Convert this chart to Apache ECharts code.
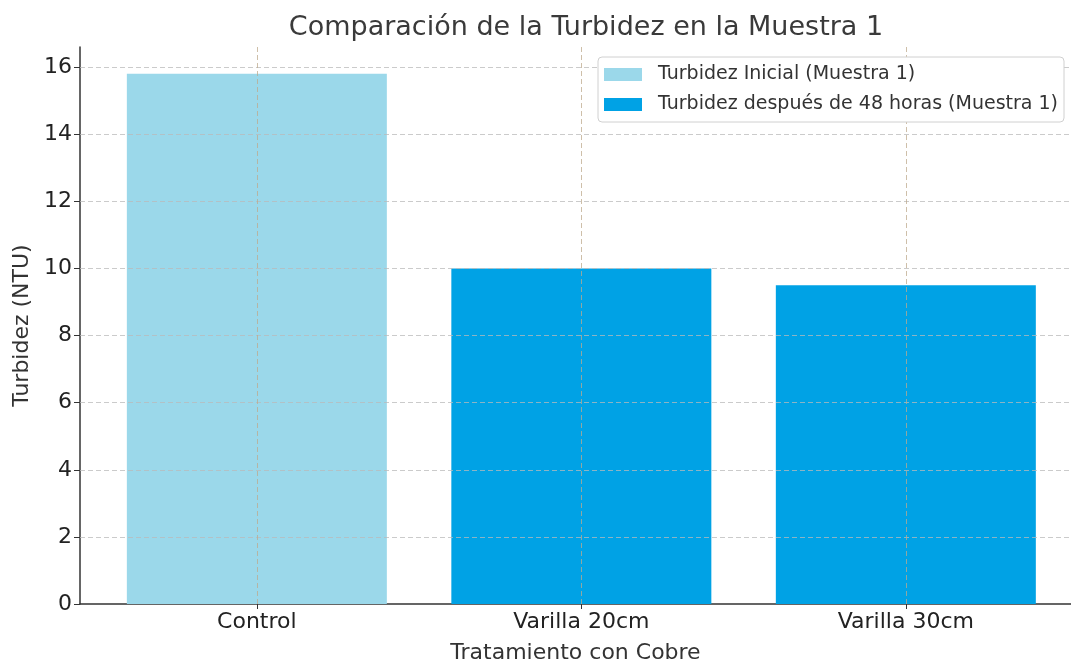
<!DOCTYPE html>
<html>
<head>
<meta charset="utf-8">
<script src="https://cdn.jsdelivr.net/npm/echarts@6/dist/echarts.min.js"></script>
<style>
html,body{margin:0;padding:0;background:#fff;}
#m1{width:1071px;height:662px;}
</style>
</head>
<body>
<div id="m1"></div>
<script>
// datos
var categorias = ['Control', 'Varilla 20cm', 'Varilla 30cm'];
var inicial = [15.8, null, null];
var despues48h = [null, 10.0, 9.5];
var yTicks = [0, 2, 4, 6, 8, 10, 12, 14, 16];

var font = 'DejaVu Sans';
var myChart = echarts.init(document.getElementById('m1'));

function toPoints(arr) {
    var out = [];
    for (var i = 0; i < arr.length; i++) {
        if (arr[i] != null) out.push([i, arr[i]]);
    }
    return out;
}

var xIdx = [];
for (var i = 0; i < categorias.length; i++) xIdx.push(i);

// lineas de rejilla (solo en los ticks, sin linea arriba)
var gridY = [];
for (var j = 1; j < yTicks.length; j++) gridY.push({ yAxis: yTicks[j] });
var gridX = [];
for (var k = 0; k < xIdx.length; k++) gridX.push({ xAxis: xIdx[k] });

var option = {
    animation: false,
    textStyle: { fontFamily: font },
    title: {
        text: 'Comparación de la Turbidez en la Muestra 1',
        left: 581, top: 9, textAlign: 'center',
        textStyle: { fontFamily: font, fontSize: 27, fontWeight: 'normal', color: '#3a3a3a' }
    },
    legend: {
        orient: 'vertical',
        left: 598, top: 57, z: 10,
        padding: [8, 6, 8, 6],
        icon: 'rect',
        itemWidth: 38, itemHeight: 13, itemGap: 11,
        backgroundColor: '#fff',
        borderColor: '#d0d0d0', borderWidth: 1, borderRadius: 4,
        textStyle: { fontFamily: font, fontSize: 19, color: '#333', padding: [0, 0, 0, 11] },
        data: ['Turbidez Inicial (Muestra 1)', 'Turbidez después de 48 horas (Muestra 1)']
    },
    grid: { left: 80, right: 0, top: 47, bottom: 58, outerBoundsMode: 'none', containLabel: false },
    xAxis: {
        type: 'value',
        min: -0.545, max: 2.509,
        name: 'Tratamiento con Cobre',
        nameLocation: 'middle', nameGap: 38,
        nameTextStyle: { fontFamily: font, fontSize: 22, color: '#333', align: 'center' },
        axisLine: { show: true, onZero: false, lineStyle: { color: '#333', width: 1.5 } },
        axisTick: { show: true, customValues: xIdx, length: 5, lineStyle: { color: '#333' } },
        axisLabel: {
            customValues: xIdx, margin: 7,
            fontFamily: font, fontSize: 22, color: '#222',
            formatter: function (v) { return categorias[Math.round(v)]; }
        },
        splitLine: { show: false }
    },
    yAxis: {
        type: 'value',
        min: 0, max: 16.6,
        name: 'Turbidez (NTU)',
        nameLocation: 'middle', nameGap: 44, nameRotate: 90,
        nameTextStyle: { fontFamily: font, fontSize: 22, color: '#333' },
        axisLine: { show: true, onZero: false, lineStyle: { color: '#333', width: 1.5 } },
        axisTick: { show: true, customValues: yTicks, length: 6, lineStyle: { color: '#333' } },
        axisLabel: {
            customValues: yTicks, margin: 8,
            fontFamily: font, fontSize: 22, color: '#222'
        },
        splitLine: { show: false }
    },
    series: [
        {
            name: 'Turbidez Inicial (Muestra 1)',
            type: 'bar',
            barWidth: 260, barGap: '-100%',
            itemStyle: { color: '#9bd8ea' },
            data: toPoints(inicial),
            markLine: {
                silent: true, symbol: 'none', z: 5,
                label: { show: false },
                lineStyle: { color: 'rgba(185,185,185,0.75)', type: [5, 3], width: 1 },
                data: gridY
            }
        },
        {
            name: 'Turbidez después de 48 horas (Muestra 1)',
            type: 'bar',
            barWidth: 260, barGap: '-100%',
            itemStyle: { color: '#00a2e5' },
            data: toPoints(despues48h),
            markLine: {
                silent: true, symbol: 'none', z: 5,
                label: { show: false },
                lineStyle: { color: 'rgba(190,170,140,0.75)', type: [5, 3], width: 1 },
                data: gridX
            }
        }
    ]
};
myChart.setOption(option);
</script>
</body>
</html>
